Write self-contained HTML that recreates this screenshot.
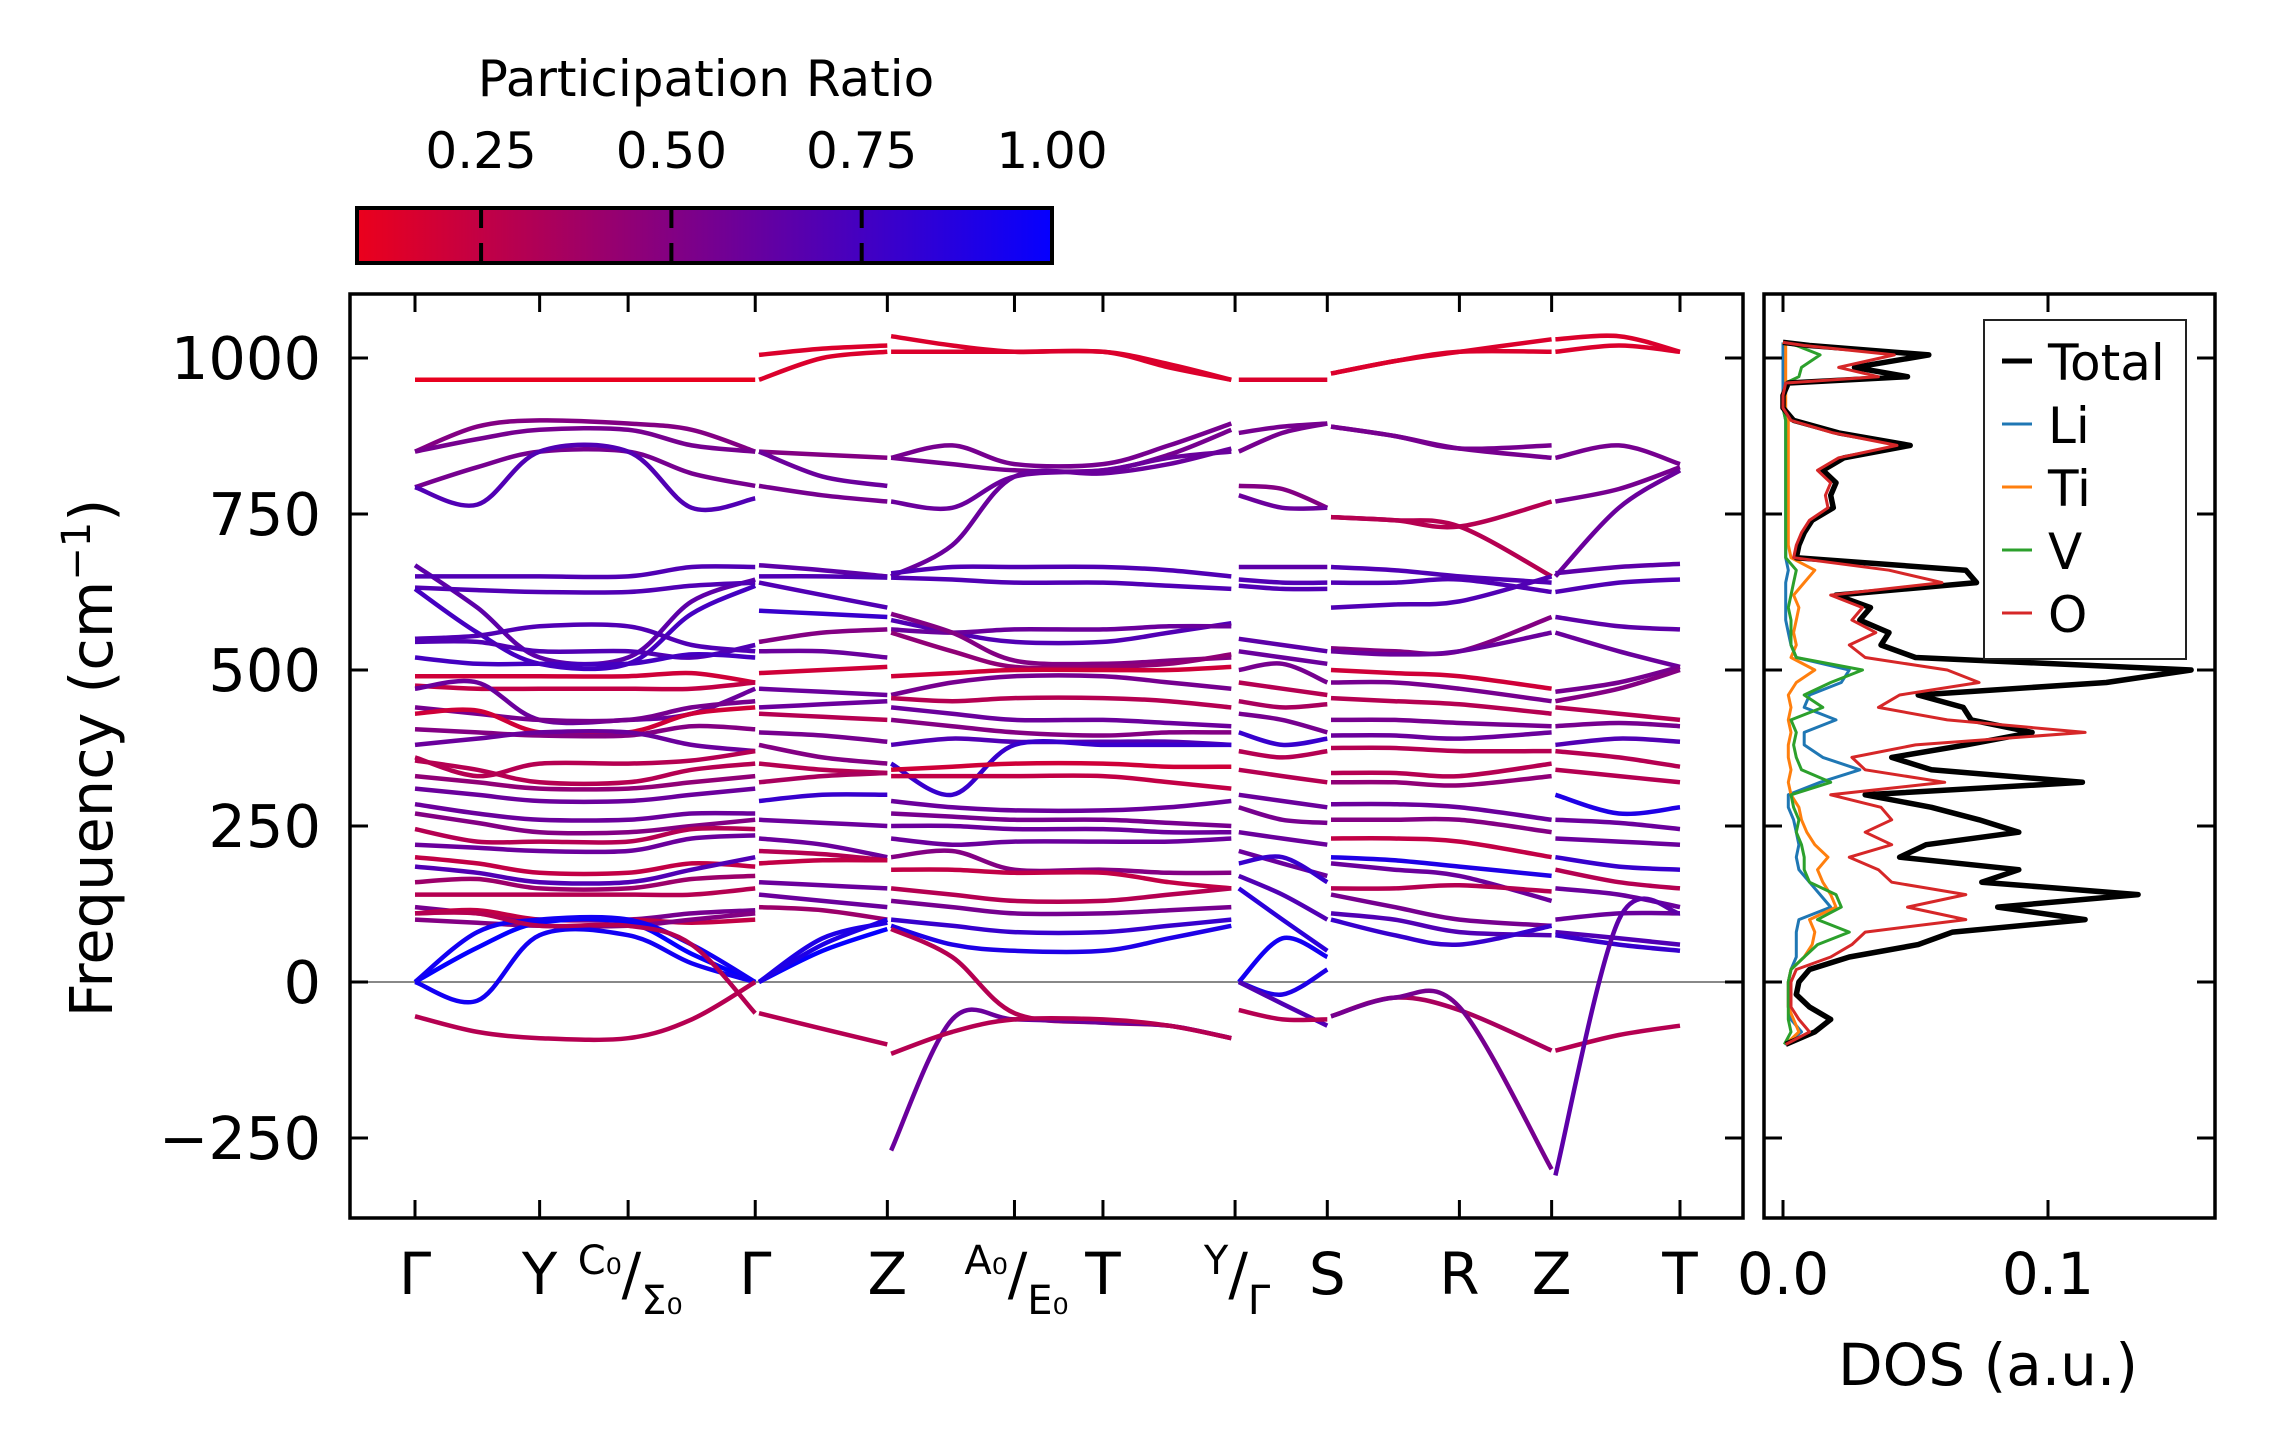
<!DOCTYPE html>
<html><head><meta charset="utf-8"><style>
html,body{margin:0;padding:0;background:#fff;}
svg{display:block;font-family:"DejaVu Sans","Liberation Sans",sans-serif;}
</style></head><body>
<svg id="fig" width="2271" height="1455" viewBox="0 0 2271 1455" xmlns="http://www.w3.org/2000/svg">
<defs>
<linearGradient id="cmap" x1="0" x2="1" y1="0" y2="0">
<stop offset="0" stop-color="rgb(235,0,28)"/><stop offset="1" stop-color="rgb(5,0,255)"/>
</linearGradient>
<clipPath id="mainclip"><rect x="350" y="294" width="1393" height="924"/></clipPath>
<clipPath id="dosclip"><rect x="1764" y="294" width="451" height="924"/></clipPath>
</defs>
<g id="colorbar">
<text x="706" y="96" font-size="50" text-anchor="middle">Participation Ratio</text>
<rect x="357" y="208" width="695" height="55" fill="url(#cmap)" stroke="#000" stroke-width="4"/>
</g>
<g id="bands" clip-path="url(#mainclip)"></g>
<g id="dos" clip-path="url(#dosclip)"></g>
<g id="axes"></g>
<text transform="translate(112,758) rotate(-90)" font-size="59" text-anchor="middle">Frequency (cm<tspan font-size="40" dy="-22">−1</tspan><tspan dy="22">)</tspan></text>
<text x="1988" y="1385" font-size="58" text-anchor="middle">DOS (a.u.)</text>
<g id="legend">
<rect x="1984" y="320" width="202" height="339" fill="#fff" stroke="#222" stroke-width="2"/>
</g>
</svg>
<script>
// ---------- colorbar ----------
const cbTicks = [0.25, 0.5, 0.75, 1.0];
const cbTickLabels = ["0.25", "0.50", "0.75", "1.00"];
const cbMin = 0.087, cbMax = 1.0;
// ---------- band axes ----------
const yTicks = [-250, 0, 250, 500, 750, 1000];
const yTickLabels = ["−250", "0", "250", "500", "750", "1000"];
const kTickPos = [0, 1, 1.71, 2.73, 3.79, 4.81, 5.52, 6.58, 7.32, 8.38, 9.12, 10.15];
const kLabels = ["Γ", "Y", "C0/Σ0", "Γ", "Z", "A0/E0", "T", "Y/Γ", "S", "R", "Z", "T"];
// ---------- band sections: k positions and bands [pr, values...] ----------
const sec1K = [0, 0.5, 1, 1.71, 2.22, 2.73];
const sec1Bands = [
[0.1,965,965,965,965,965,965],[0.5,850,890,900,895,885,850],[0.55,850,870,885,885,860,850],
[0.55,793,825,850,850,815,795],[0.7,793,765,850,850,760,775],[0.65,668,600,520,520,610,645],
[0.7,650,650,650,650,665,665],[0.7,632,628,625,625,635,640],[0.75,630,560,510,510,590,635],
[0.7,550,555,570,570,540,530],[0.7,545,545,530,530,520,540],[0.75,520,510,510,510,525,520],
[0.2,490,490,490,490,495,480],[0.25,475,470,470,470,470,480],[0.6,470,480,420,420,430,470],
[0.55,440,430,420,420,440,450],[0.2,430,435,400,400,430,440],[0.5,405,400,395,395,410,405],
[0.6,380,390,400,400,380,370],[0.3,360,330,350,350,355,370],[0.3,355,340,320,320,340,350],
[0.45,330,320,310,310,320,330],[0.6,310,300,290,290,300,310],[0.6,285,270,260,260,270,270],
[0.5,270,255,240,240,250,260],[0.3,245,225,225,225,245,245],[0.6,220,215,210,210,230,235],
[0.25,200,190,175,175,190,185],[0.7,185,175,160,160,180,200],[0.4,160,165,150,150,165,170],
[0.3,140,140,140,140,140,150],[0.55,120,110,100,100,110,115],[0.25,110,115,100,100,95,100],
[0.5,100,95,90,90,100,110],[1.0,0,55,95,95,45,0],[0.95,0,80,100,100,60,0],
[0.95,0,-30,75,75,30,0],[0.3,-55,-80,-90,-90,-60,0],[0.3,110,110,90,90,60,-50]
];
const sec2K = [2.76, 3.27, 3.79];
const sec2Bands = [
[0.15,1005,1015,1020],[0.15,965,1000,1010],[0.5,850,845,840],[0.6,850,810,795],[0.55,795,780,770],
[0.65,668,660,650],[0.7,650,650,648],[0.7,640,620,600],[0.8,595,590,585],[0.5,545,560,565],
[0.6,530,530,520],[0.2,495,500,505],[0.6,470,465,460],[0.6,440,445,450],[0.3,430,425,420],
[0.55,400,395,385],[0.5,380,360,350],[0.3,350,340,335],[0.35,320,330,335],[0.8,290,300,300],
[0.6,260,255,250],[0.6,230,220,200],[0.3,210,205,195],[0.25,190,195,195],[0.6,160,155,150],
[0.6,140,130,120],[0.4,120,115,100],[1.0,0,50,85],[0.9,0,60,100],[0.9,0,70,95],[0.3,-50,-75,-100]
];
const sec3K = [3.82, 4.31, 4.81, 5.52, 6.05, 6.55];
const sec3Bands = [
[0.15,1035,1020,1010,1010,985,965],[0.15,1010,1010,1010,1010,990,965],[0.55,840,860,830,830,860,895],
[0.55,840,830,820,820,845,885],[0.6,770,760,810,820,840,850],[0.6,650,700,810,815,830,855],
[0.7,655,665,665,665,660,650],[0.7,648,645,640,640,635,630],[0.7,580,560,545,545,560,575],
[0.6,565,560,565,565,570,570],[0.5,590,560,515,510,515,520],[0.45,560,530,505,505,510,525],
[0.2,490,495,500,500,500,505],[0.55,460,480,490,490,480,470],[0.3,455,450,455,455,450,440],
[0.6,440,430,420,420,415,410],[0.5,420,410,400,395,400,400],[0.7,380,390,385,385,385,380],
[0.8,350,300,380,380,380,380],[0.2,340,345,350,350,345,345],[0.25,330,330,330,330,320,310],
[0.6,290,280,275,275,280,290],[0.55,270,265,260,260,255,250],[0.6,250,250,245,245,240,240],
[0.6,230,220,225,225,225,230],[0.5,200,210,180,180,175,175],[0.25,180,180,175,175,160,150],
[0.3,150,140,130,130,140,150],[0.55,130,120,110,110,115,120],[0.8,100,90,80,80,90,100],
[0.9,90,60,50,50,70,90],[0.3,85,40,-50,-65,-70,-90],[0.6,-270,-60,-60,-65,-70,-90],
[0.3,-115,-80,-60,-60,-70,-90]
];
const sec4K = [6.61, 6.96, 7.32];
const sec4Bands = [
[0.15,965,965,965],[0.55,850,880,895],[0.55,880,890,895],[0.5,795,790,760],[0.6,780,760,760],
[0.65,665,665,665],[0.7,645,640,640],[0.7,635,630,630],[0.65,550,540,530],[0.6,530,520,510],
[0.55,500,510,480],[0.3,480,470,460],[0.35,450,440,445],[0.55,430,420,400],[0.8,400,380,390],
[0.3,370,360,370],[0.3,340,330,320],[0.6,300,290,280],[0.55,280,260,255],[0.6,240,230,220],
[0.6,210,190,170],[0.8,190,200,160],[0.7,170,140,100],[0.85,150,100,50],[0.95,0,70,40],
[0.9,0,-20,20],[0.7,0,-35,-70],[0.3,-45,-60,-60]
];
const sec5K = [7.35, 7.86, 8.38, 9.12];
const sec5Bands = [
[0.15,975,995,1010,1030],[0.15,975,995,1010,1010],[0.55,890,875,855,840],[0.55,890,875,855,860],
[0.3,745,740,730,770],[0.3,745,740,730,650],[0.7,665,660,650,640],[0.7,600,605,610,650],
[0.7,640,640,645,625],[0.5,535,530,530,585],[0.6,530,525,530,560],[0.2,500,495,490,470],
[0.55,480,480,470,450],[0.3,455,450,445,430],[0.55,420,420,415,410],[0.6,395,395,390,400],
[0.3,375,375,370,370],[0.3,335,335,330,350],[0.45,320,320,315,330],[0.6,285,285,280,260],
[0.5,260,260,260,240],[0.25,230,230,225,200],[0.9,200,195,185,170],[0.6,190,180,170,130],
[0.3,150,150,155,145],[0.55,140,120,100,90],[0.7,110,100,80,75],[0.8,100,75,60,90],
[0.35,-55,-25,-45,-110],[0.55,-55,-25,-40,-300]
];
const sec6K = [9.15, 9.66, 10.15];
const sec6Bands = [
[0.15,1030,1035,1010],[0.15,1010,1020,1010],[0.55,840,860,830],[0.55,770,790,825],[0.6,650,760,820],
[0.65,655,665,670],[0.7,625,640,645],[0.65,585,570,565],[0.6,560,530,505],[0.55,465,480,505],
[0.5,450,470,500],[0.3,440,430,420],[0.55,410,415,410],[0.7,380,390,385],[0.3,370,360,345],
[0.3,340,330,320],[0.9,300,270,280],[0.6,260,255,245],[0.6,230,225,220],[0.8,200,185,180],
[0.3,180,160,150],[0.6,150,140,120],[0.6,100,110,110],[0.7,80,70,60],[0.8,75,60,50],
[0.3,-110,-85,-70],[0.65,-310,100,110]
];
// ---------- DOS ----------
const dosFreq = [-100,-80,-60,-40,-20,0,20,40,60,80,100,120,140,160,180,200,220,240,260,280,300,320,340,360,380,400,420,440,460,480,500,520,540,560,580,600,620,640,660,680,700,720,740,760,780,800,820,840,860,880,900,920,940,960,970,985,1005,1020,1025];
const dosTotal = [0.001,0.012,0.018,0.010,0.005,0.006,0.010,0.025,0.051,0.064,0.114,0.081,0.134,0.075,0.089,0.044,0.054,0.089,0.074,0.056,0.031,0.113,0.056,0.041,0.069,0.094,0.071,0.068,0.051,0.122,0.154,0.050,0.037,0.040,0.029,0.033,0.020,0.073,0.069,0.005,0.006,0.008,0.011,0.019,0.018,0.020,0.015,0.023,0.048,0.021,0.004,0.0,0.0,0.002,0.047,0.027,0.055,0.010,0.0];
const dosO = [0.001,0.010,0.006,0.003,0.003,0.003,0.005,0.018,0.026,0.031,0.069,0.047,0.069,0.041,0.036,0.025,0.041,0.031,0.041,0.037,0.018,0.061,0.031,0.026,0.050,0.114,0.062,0.036,0.044,0.074,0.062,0.031,0.025,0.035,0.026,0.030,0.018,0.060,0.040,0.004,0.005,0.007,0.010,0.017,0.016,0.018,0.013,0.021,0.043,0.019,0.003,0.0,0.0,0.001,0.036,0.021,0.042,0.008,0.0];
const dosTi = [0.001,0.006,0.004,0.002,0.002,0.002,0.003,0.008,0.011,0.012,0.010,0.020,0.018,0.015,0.013,0.017,0.012,0.009,0.007,0.006,0.003,0.002,0.003,0.002,0.002,0.003,0.002,0.003,0.002,0.005,0.012,0.003,0.005,0.004,0.005,0.006,0.004,0.008,0.012,0.003,0.002,0.002,0.002,0.002,0.002,0.002,0.002,0.002,0.002,0.002,0.002,0.001,0.001,0.001,0.001,0.001,0.001,0.001,0.0];
const dosV = [0.0005,0.003,0.002,0.002,0.002,0.002,0.003,0.008,0.013,0.025,0.013,0.022,0.020,0.010,0.008,0.008,0.007,0.005,0.006,0.004,0.003,0.018,0.007,0.005,0.004,0.005,0.003,0.015,0.008,0.018,0.030,0.005,0.003,0.003,0.003,0.002,0.003,0.004,0.005,0.001,0.001,0.001,0.001,0.001,0.001,0.001,0.001,0.001,0.001,0.001,0.001,0.0,0.0,0.001,0.006,0.007,0.014,0.005,0.0];
const dosLi = [0.0005,0.007,0.003,0.002,0.002,0.002,0.003,0.005,0.005,0.005,0.006,0.018,0.014,0.010,0.006,0.005,0.006,0.005,0.004,0.002,0.002,0.014,0.029,0.015,0.008,0.008,0.020,0.008,0.010,0.022,0.025,0.005,0.003,0.002,0.001,0.001,0.001,0.001,0.002,0.001,0.001,0.001,0.001,0.001,0.001,0.001,0.001,0.001,0.001,0.001,0.001,0.0,0.0,0.0,0.0,0.0,0.0,0.0,0.0];
const dosTicks = [0.0, 0.1];
const dosTickLabels = ["0.0", "0.1"];
const legendLabels = ["Total", "Li", "Ti", "V", "O"];

// ---------- scales ----------
const NS = "http://www.w3.org/2000/svg";
const yScale = f => 982 - 0.624 * f;
const kScale = k => 415 + k * (1680 - 415) / 10.15;
const dosScale = v => 1783 + v * 2650;
const cbScale = v => 357 + (v - cbMin) / (cbMax - cbMin) * 695;
function prColor(pr){const t=Math.max(0,Math.min(1,(pr-cbMin)/(cbMax-cbMin)));return `rgb(${Math.round(235*(1-t)+5*t)},0,${Math.round(28*(1-t)+255*t)})`;}
function mk(tag, attrs, parent){const e=document.createElementNS(NS,tag);for(const k in attrs)e.setAttribute(k,attrs[k]);parent.appendChild(e);return e;}
function smoothPath(pts){let d=`M${pts[0][0].toFixed(1)},${pts[0][1].toFixed(1)}`;for(let i=0;i<pts.length-1;i++){const p0=pts[i-1]||pts[i],p1=pts[i],p2=pts[i+1],p3=pts[i+2]||p2;const c1=[p1[0]+(p2[0]-p0[0])/6,p1[1]+(p2[1]-p0[1])/6],c2=[p2[0]-(p3[0]-p1[0])/6,p2[1]-(p3[1]-p1[1])/6];d+=`C${c1[0].toFixed(1)},${c1[1].toFixed(1)} ${c2[0].toFixed(1)},${c2[1].toFixed(1)} ${p2[0].toFixed(1)},${p2[1].toFixed(1)}`;}return d;}

// colorbar ticks
const cb = document.getElementById('colorbar');
cbTicks.forEach((v,i)=>{
  const x=cbScale(v);
  if(v<cbMax){
    const t1=mk('line',{x1:x,x2:x,y1:210,y2:228,stroke:'#000','stroke-width':4},cb);
    
    
    const t2=mk('line',{x1:x,x2:x,y1:243,y2:261,stroke:'#000','stroke-width':4},cb);
    
    
  }
  const tx=mk('text',{x:x,y:168,'font-size':50,'text-anchor':'middle'},cb);
  tx.textContent=cbTickLabels[i];
  
  
});

// bands
const bg=document.getElementById('bands');
const zl=mk('line',{x1:350,x2:1743,y1:yScale(0),y2:yScale(0),stroke:'#888','stroke-width':2},bg);


[[sec1K,sec1Bands],[sec2K,sec2Bands],[sec3K,sec3Bands],[sec4K,sec4Bands],[sec5K,sec5Bands],[sec6K,sec6Bands]].forEach(([ks,bands],si)=>{
  bands.forEach(b=>{
    const pts=ks.map((k,j)=>[kScale(k),yScale(b[j+1])]);
    const p=mk('path',{d:smoothPath(pts),fill:'none',stroke:prColor(b[0]),'stroke-width':4.5,'stroke-linecap':'butt'},bg);
    
    
  });
});

// DOS curves
const dg=document.getElementById('dos');
const dosSeries=[[dosLi,'#1f77b4',3],[dosTi,'#ff7f0e',3],[dosV,'#2ca02c',3],[dosTotal,'#000',5.5],[dosO,'#d62728',3]];
const dosNames=['dos-li','dos-ti','dos-v','dos-total','dos-o'];
dosSeries.forEach(([vals,col,w],i)=>{
  const d=vals.map((v,j)=>(j?'L':'M')+dosScale(v).toFixed(1)+','+yScale(dosFreq[j]).toFixed(1)).join('');
  const p=mk('path',{d:d,fill:'none',stroke:col,'stroke-width':w,'stroke-linejoin':'round'},dg);
  
  
});

// axes
const ax=document.getElementById('axes');
const f1=mk('rect',{x:350,y:294,width:1393,height:924,fill:'none',stroke:'#000','stroke-width':3.5},ax);


const f2=mk('rect',{x:1764,y:294,width:451,height:924,fill:'none',stroke:'#000','stroke-width':3.5},ax);


yTicks.forEach((v,i)=>{
  const y=yScale(v);
  [[350,368],[1725,1743],[1764,1782],[2197,2215]].forEach(([a,b])=>{
    const t=mk('line',{x1:a,x2:b,y1:y,y2:y,stroke:'#000','stroke-width':3},ax);
    
    
  });
  const tx=mk('text',{x:321,y:y+21,'font-size':59,'text-anchor':'end'},ax);
  tx.textContent=yTickLabels[i];
  
  
});
kTickPos.forEach((k,i)=>{
  const x=kScale(k);
  [[1200,1218],[294,312]].forEach(([a,b])=>{
    const t=mk('line',{x1:x,x2:x,y1:a,y2:b,stroke:'#000','stroke-width':3},ax);
    
    
  });
  const lab=kLabels[i];
  const tx=mk('text',{x:x,y:1294,'font-size':58,'text-anchor':'middle'},ax);
  
  
  if(lab.indexOf('/')>=0){
    const [a,b]=lab.split('/');
    const sa=a.replace('0','₀'), sb=b.replace('0','₀');
    const t1=mk('tspan',{'font-size':40,dy:-20},tx);t1.textContent=sa;
    const t2=mk('tspan',{'font-size':58,dy:20},tx);t2.textContent='/';
    const t3=mk('tspan',{'font-size':40,dy:20},tx);t3.textContent=sb;
    tx.setAttribute('x',x+2);
  } else tx.textContent=lab;
});
dosTicks.forEach((v,i)=>{
  const x=dosScale(v);
  [[1200,1218],[294,312]].forEach(([a,b])=>{
    const t=mk('line',{x1:x,x2:x,y1:a,y2:b,stroke:'#000','stroke-width':3},ax);
    
    
  });
  const tx=mk('text',{x:x,y:1294,'font-size':58,'text-anchor':'middle'},ax);
  tx.textContent=dosTickLabels[i];
  
  
});

// legend
const lg=document.getElementById('legend');
const legCols=['#000','#1f77b4','#ff7f0e','#2ca02c','#d62728'];
legendLabels.forEach((l,i)=>{
  const y=361+i*63;
  const ln=mk('line',{x1:2002,x2:2032,y1:y,y2:y,stroke:legCols[i],'stroke-width':i?3:5},lg);
  
  
  const tx=mk('text',{x:2048,y:y+19,'font-size':50},lg);
  tx.textContent=l;
  
  
});
</script>
</body></html>
